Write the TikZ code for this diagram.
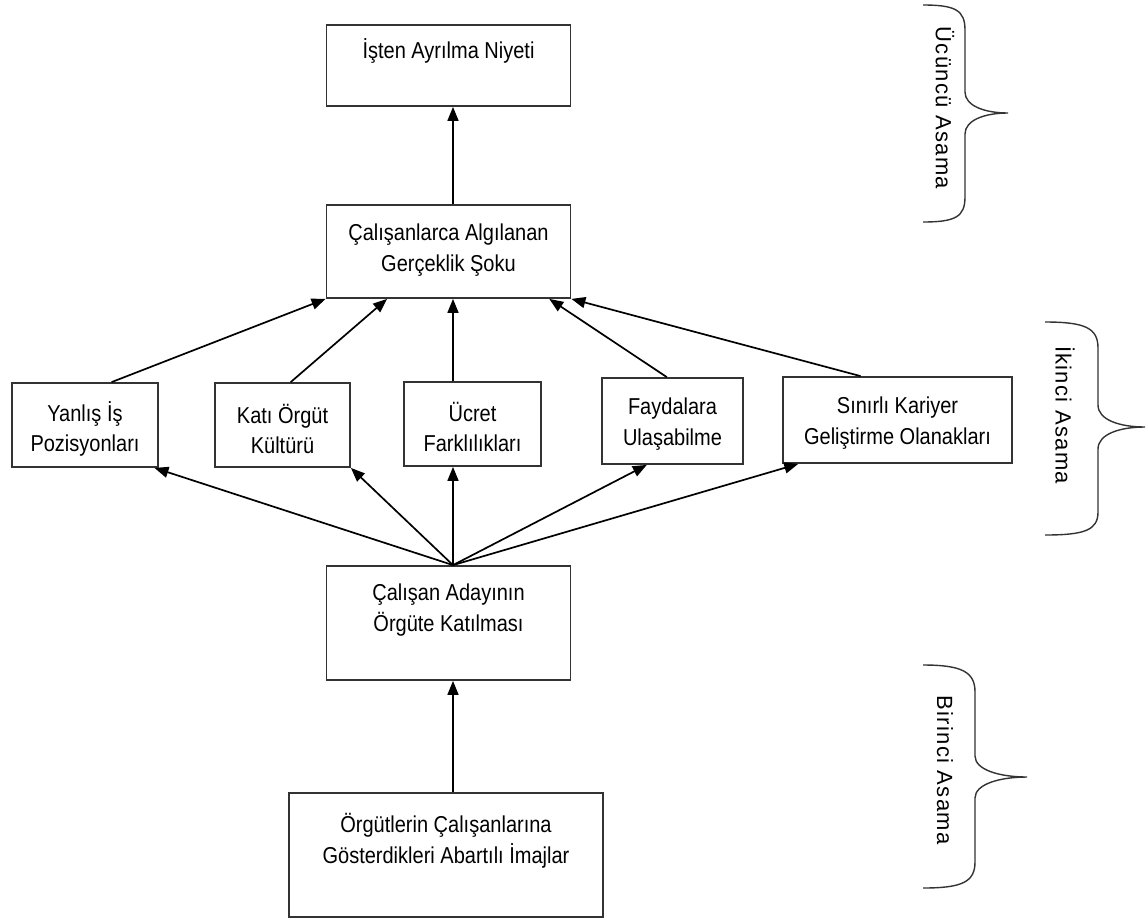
\documentclass[tikz,border=0pt]{standalone}
\usepackage{fontspec}
\setmainfont{Liberation Sans}[FakeStretch=0.87]
\newfontfamily\lblfont{Liberation Sans}[LetterSpace=6]
\usetikzlibrary{arrows.meta,calc}
\begin{document}
\begin{tikzpicture}[x=1pt,y=-1pt,
  box/.style={draw=black!80, line width=1.8pt, inner sep=0, fill=none},
  txt/.style={align=center, inner sep=0, font=\fontsize{23}{30.5}\selectfont},
  arr/.style={line width=1.7pt, -{Triangle[length=14pt,width=11pt]}},
  brc/.style={line width=1.4pt, draw=black!80},
  stage/.style={rotate=-90, inner sep=0, font=\lblfont\fontsize{22}{24}\selectfont}]
\useasboundingbox (0,0) rectangle (1148,919);
% boxes
\node[box, minimum width=244pt, minimum height=81pt] (A) at (448.5,65.5) {};
\node[box, minimum width=244pt, minimum height=93pt] (B) at (448.5,251.5) {};
\node[box, minimum width=146pt, minimum height=84pt] (Y) at (85,425) {};
\node[box, minimum width=135pt, minimum height=84pt] (K) at (282.5,425) {};
\node[box, minimum width=137pt, minimum height=84pt] (U) at (472.5,424) {};
\node[box, minimum width=141pt, minimum height=86pt] (F) at (672.5,421) {};
\node[box, minimum width=229pt, minimum height=86pt] (S) at (897.5,420) {};
\node[box, minimum width=244pt, minimum height=114pt] (C) at (448.5,623) {};
\node[box, minimum width=314pt, minimum height=124pt] (D) at (446,855) {};
% texts
\node[txt] (At) at ($(A.north)+(0,27)$) {İşten Ayrılma Niyeti};
\node[txt] (Bt) at ($(B.north)+(0,46)$) {Çalışanlarca Algılanan\\Gerçeklik Şoku};
\node[txt] (Yt) at ($(Y.center)+(0,4)$) {Yanlış İş\\Pozisyonları};
\node[txt] (Kt) at ($(K.center)+(0,4)$) {Katı Örgüt\\Kültürü};
\node[txt] (Ut) at ($(U.center)+(0,3)$) {Ücret\\Farklılıkları};
\node[txt] (Ft) at ($(F.center)+(0,3)$) {Faydalara\\Ulaşabilme};
\node[txt] (St) at ($(S.center)+(0,3)$) {Sınırlı Kariyer\\Geliştirme Olanakları};
\node[txt] (Ct) at ($(C.north)+(0,45)$) {Çalışan Adayının\\Örgüte Katılması};
\node[txt] (Dt) at ($(D.north)+(0,48.5)$) {Örgütlerin Çalışanlarına\\Gösterdikleri Abartılı İmajlar};
% connectors
\draw[arr] ([xshift=4.5pt]B.north) -- ([xshift=4.5pt]A.south);
\draw[arr] ($(Y.north west)!0.68!(Y.north east)$) -- (B.south west);
\draw[arr] ($(K.north west)!0.56!(K.north east)$) -- ($(B.south west)!0.25!(B.south east)$);
\draw[arr] ([xshift=4.5pt]B.south |- U.north) -- ([xshift=4.5pt]B.south);
\draw[arr] ($(F.north west)!0.46!(F.north east)$) -- ($(B.south west)!0.91!(B.south east)$);
\draw[arr] ($(S.north west)!0.34!(S.north east)$) -- (B.south east);
\draw[arr] ([xshift=4.5pt]C.north) -- ($(Y.south west)!0.97!(Y.south east)$);
\draw[arr] ([xshift=4.5pt]C.north) -- (K.south east);
\draw[arr] ([xshift=4.5pt]C.north) -- ([xshift=4.5pt]C.north |- U.south);
\draw[arr] ([xshift=4.5pt]C.north) -- ($(F.south west)!0.32!(F.south east)$);
\draw[arr] ([xshift=4.5pt]C.north) -- ($(S.south west)!0.07!(S.south east)$);
\draw[arr] ([xshift=4.5pt]C.south |- D.north) -- ([xshift=4.5pt]C.south);
% braces
\draw[brc] (923,5) .. controls (955,5) and (965,10) .. (965,30) -- (965,92)
  .. controls (965,106) and (985,113) .. (1008,113)
  .. controls (985,113) and (965,120) .. (965,134) -- (965,197)
  .. controls (965,217) and (955,222) .. (923,222);
\draw[brc] (1045,322) .. controls (1085,322) and (1098,328) .. (1098,348) -- (1098,405)
  .. controls (1098,420) and (1120,427) .. (1145,427)
  .. controls (1120,427) and (1098,434) .. (1098,449) -- (1098,512)
  .. controls (1098,530) and (1085,535) .. (1045,535);
\draw[brc] (923,665) .. controls (962,665) and (975,672) .. (975,692) -- (975,756)
  .. controls (975,770) and (1000,777) .. (1027,777)
  .. controls (1000,777) and (975,784) .. (975,798) -- (975,862)
  .. controls (975,882) and (962,888) .. (923,888);
\node[stage] (L3) at (945,108) {Ücüncü Asama};
\node[stage] (L2) at (1065,415) {İkinci Asama};
\node[stage] (L1) at (945,770) {Birinci Asama};
\end{tikzpicture}
\end{document}
